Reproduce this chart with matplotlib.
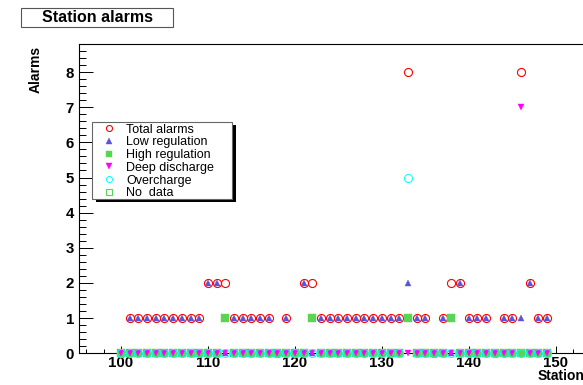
import numpy as np
import matplotlib
matplotlib.use("Agg")
import matplotlib.pyplot as plt
from matplotlib.patches import Rectangle
from matplotlib.lines import Line2D
from matplotlib.ticker import MultipleLocator

plt.rcParams['font.family'] = ['Liberation Sans', 'DejaVu Sans']

# ---- data -------------------------------------------------------------
stations = np.arange(100, 150)

total_alarms = [0, 1, 1, 1, 1, 1, 1, 1, 1, 1,
                2, 2, 2, 1, 1, 1, 1, 1, 0, 1,
                0, 2, 2, 1, 1, 1, 1, 1, 1, 1,
                1, 1, 1, 8, 1, 1, 0, 1, 2, 2,
                1, 1, 1, 0, 1, 1, 8, 2, 1, 1]
low_regulation = [0, 1, 1, 1, 1, 1, 1, 1, 1, 1,
                  2, 2, 0, 1, 1, 1, 1, 1, 0, 1,
                  0, 2, 0, 1, 1, 1, 1, 1, 1, 1,
                  1, 1, 1, 2, 1, 1, 0, 1, 0, 2,
                  1, 1, 1, 0, 1, 1, 1, 2, 1, 1]
high_regulation = [0, 0, 0, 0, 0, 0, 0, 0, 0, 0,
                   0, 0, 1, 0, 0, 0, 0, 0, 0, 0,
                   0, 0, 1, 0, 0, 0, 0, 0, 0, 0,
                   0, 0, 0, 1, 0, 0, 0, 0, 1, 0,
                   0, 0, 0, 0, 0, 0, 0, 0, 0, 0]
deep_discharge = [0, 0, 0, 0, 0, 0, 0, 0, 0, 0,
                  0, 0, 0, 0, 0, 0, 0, 0, 0, 0,
                  0, 0, 0, 0, 0, 0, 0, 0, 0, 0,
                  0, 0, 0, 0, 0, 0, 0, 0, 0, 0,
                  0, 0, 0, 0, 0, 0, 7, 0, 0, 0]
overcharge = [0, 0, 0, 0, 0, 0, 0, 0, 0, 0,
              0, 0, 0, 0, 0, 0, 0, 0, 0, 0,
              0, 0, 0, 0, 0, 0, 0, 0, 0, 0,
              0, 0, 0, 5, 0, 0, 0, 0, 0, 0,
              0, 0, 0, 0, 0, 0, 0, 0, 0, 0]
no_data_stations = []
no_data = []

series_labels = ["Total alarms", "Low regulation", "High regulation",
                 "Deep discharge", "Overcharge", "No  data"]

# ---- styles -----------------------------------------------------------
RED = '#ff0000'
BLUE = '#5954d9'
GREEN = '#59d454'
MAGENTA = '#ff00ff'
CYAN = '#00ffff'

styles = [
    dict(marker='o', ms=5.8, mfc='none', mec=RED, mew=0.8),
    dict(marker='^', ms=5.0, mfc=BLUE, mec=BLUE, mew=0.3),
    dict(marker='s', ms=5.2, mfc=GREEN, mec=GREEN, mew=0.3),
    dict(marker='v', ms=5.0, mfc=MAGENTA, mec=MAGENTA, mew=0.3),
    dict(marker='o', ms=5.8, mfc='none', mec=CYAN, mew=0.7),
    dict(marker='s', ms=5.2, mfc='none', mec=GREEN, mew=0.8),
]

W, H = 583, 385
fig = plt.figure(figsize=(W / 100, H / 100), dpi=100)


def fx(px):
    return px / W


def fy(py):
    return 1 - py / H


# axes frame in pixel geometry
left_px, right_px, top_px, bottom_px = 78.7, 586.0, 44.3, 353.3
ax = fig.add_axes([fx(left_px), fy(bottom_px),
                   (right_px - left_px) / W, (bottom_px - top_px) / H])

xpx_per_unit = 8.694
ypx_per_unit = 35.16
ax.set_xlim(100 - (121 - left_px) / xpx_per_unit,
            100 + (right_px - 121) / xpx_per_unit)
ax.set_ylim(0, (bottom_px - top_px) / ypx_per_unit)

series = [(stations, total_alarms), (stations, low_regulation),
          (stations, high_regulation), (stations, deep_discharge),
          (stations, overcharge), (no_data_stations, no_data)]
for z, (xs, ys) in enumerate(series):
    ax.plot(xs, ys, linestyle='none', clip_on=False, zorder=3 + z, **styles[z])

# axis styling
for side in ['left', 'bottom', 'top', 'right']:
    ax.spines[side].set_linewidth(0.8)
    ax.spines[side].set_color('black')

ax.xaxis.set_major_locator(MultipleLocator(10))
ax.xaxis.set_minor_locator(MultipleLocator(2))
ax.yaxis.set_major_locator(MultipleLocator(1))
ax.yaxis.set_minor_locator(MultipleLocator(0.2))

ax.tick_params(axis='y', which='major', direction='in', length=10, width=0.7,
               pad=3.4, labelsize=10.8, right=False)
ax.tick_params(axis='y', which='minor', direction='in', length=5, width=0.7,
               right=False)
ax.tick_params(axis='x', which='major', direction='in', length=5, width=0.7,
               pad=2.0, labelsize=10.8, top=False)
ax.tick_params(axis='x', which='minor', direction='in', length=2.6, width=0.7,
               top=False)
for lab in ax.get_xticklabels() + ax.get_yticklabels():
    lab.set_fontweight('bold')

# axis titles
fig.text(fx(35.5), fy(45.5), "Alarms", rotation=90, ha='center', va='top',
         fontsize=10, fontweight='bold')
fig.text(fx(538), fy(369.5), "Station", ha='left', va='top',
         fontsize=10, fontweight='bold')

# title box
fig.add_artist(Rectangle((fx(21), fy(27)), (173 - 21) / W, (27 - 8) / H,
                         transform=fig.transFigure, facecolor='white',
                         edgecolor='#555555', linewidth=0.8, zorder=2))
fig.text(fx(97), fy(17.5), "Station alarms", ha='center', va='center',
         fontsize=11.5, fontweight='bold', zorder=4)

# legend box with drop shadow
lx0, lx1, ly0, ly1 = 91.7, 232.0, 122.0, 199.0
fig.add_artist(Rectangle((fx(lx0 + 4), fy(ly1 + 3)), (lx1 - lx0) / W,
                         (ly1 - ly0) / H, transform=fig.transFigure,
                         facecolor='black', edgecolor='black', linewidth=0,
                         zorder=20))
fig.add_artist(Rectangle((fx(lx0), fy(ly1)), (lx1 - lx0) / W, (ly1 - ly0) / H,
                         transform=fig.transFigure, facecolor='white',
                         edgecolor='#666666', linewidth=0.8, zorder=21))
row0, step = 128.3, 12.7
for k, label in enumerate(series_labels):
    yy = row0 + k * step
    st = dict(styles[k])
    st['ms'] = st['ms'] * 0.75
    fig.add_artist(Line2D([fx(109)], [fy(yy)], transform=fig.transFigure,
                          linestyle='none', zorder=22, **st))
    fig.text(fx(126.5), fy(yy), label, ha='left', va='center_baseline',
             fontsize=9.0, zorder=22)

fig.savefig("out.png", dpi=100)
